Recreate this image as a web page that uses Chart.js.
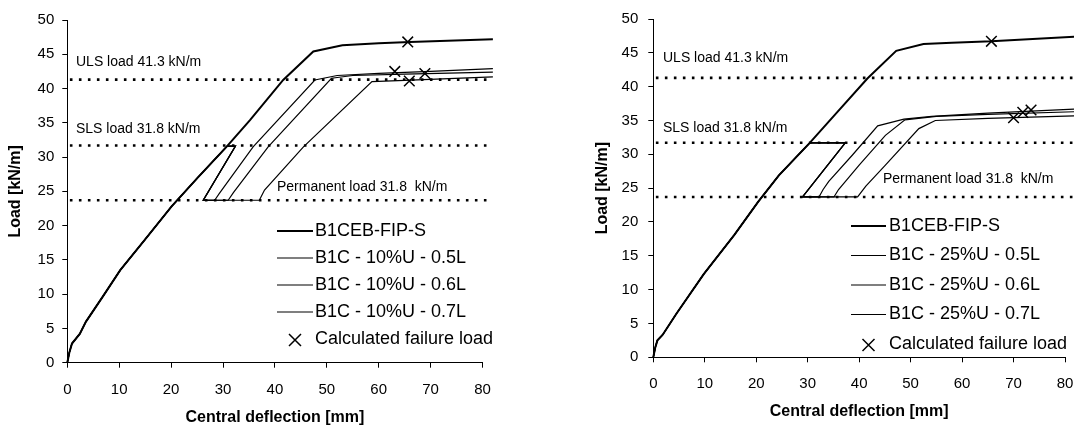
<!DOCTYPE html>
<html>
<head>
<meta charset="utf-8">
<script src="https://cdn.jsdelivr.net/npm/chart.js@4.4.0/dist/chart.umd.min.js"></script>
<style>
body { margin: 0; background: #fff; }
#left { position: absolute; left: 0; top: 0; }
#right { position: absolute; left: 540px; top: 0; }
</style>
</head>
<body>
<canvas id="left" width="540" height="429"></canvas>
<canvas id="right" width="534" height="429"></canvas>
<script>
// ---- data ----
const limitNames = ['ULS load 41.3 kN/m', 'SLS load 31.8 kN/m', 'Permanent load 31.8  kN/m'];
const limitLoads = [41.3, 31.7, 23.7];
const markerLabel = 'Calculated failure load';

const leftLabels = ['B1CEB-FIP-S', 'B1C - 10%U - 0.5L', 'B1C - 10%U - 0.6L', 'B1C - 10%U - 0.7L'];
const rightLabels = ['B1CEB-FIP-S', 'B1C - 25%U - 0.5L', 'B1C - 25%U - 0.6L', 'B1C - 25%U - 0.7L'];

// left: 10%U
const leftMainX = [0, 0.4, 0.9, 2.4, 3.6, 6.8, 10.2, 15, 20.1, 25, 30.8, 35.2, 41.6, 47.4, 53, 60, 66, 82];
const leftMainY = [0, 1.5, 2.8, 4.2, 6.0, 9.6, 13.5, 18, 22.8, 26.9, 31.6, 35.4, 41.25, 45.4, 46.3, 46.6, 46.8, 47.2];
const leftSharedX = [0, 0.4, 0.9, 2.4, 3.6, 6.8, 10.2, 15, 20.1, 25, 30.8, 32.4, 26.2];
const leftSharedY = [0, 1.5, 2.8, 4.2, 6.0, 9.6, 13.5, 18, 22.8, 26.9, 31.6, 31.6, 23.7];
const left05X = [28.4, 29.3, 35.8, 47.7, 52, 60, 70, 82];
const left05Y = [23.7, 24.7, 31.5, 41.25, 41.9, 42.2, 42.5, 42.9];
const left06X = [31.0, 32.0, 38.7, 50.9, 55, 65, 82];
const left06Y = [23.7, 24.8, 31.5, 41.5, 41.9, 42.1, 42.4];
const left07X = [37.0, 38.0, 45.5, 58.7, 65, 82];
const left07Y = [23.7, 25.2, 31.5, 41.0, 41.2, 41.7];
const leftFailX = [65.6, 63.1, 68.9, 65.9];
const leftFailY = [46.8, 42.5, 42.2, 41.1];

// right: 25%U
const rightMainX = [0, 0.4, 0.8, 1.8, 4.45, 9.8, 15.75, 20.4, 24.4, 30.4, 35.7, 41.6, 47.2, 52.5, 58, 65.7, 82];
const rightMainY = [0, 1.5, 2.5, 3.3, 6.4, 12.3, 18.1, 23.0, 26.9, 31.7, 36.2, 41.2, 45.3, 46.3, 46.5, 46.7, 47.4];
const rightSharedX = [0, 0.4, 0.8, 1.8, 4.45, 9.8, 15.75, 20.4, 24.4, 30.4, 37.3, 29.0];
const rightSharedY = [0, 1.5, 2.5, 3.3, 6.4, 12.3, 18.1, 23.0, 26.9, 31.7, 31.7, 23.7];
const right05X = [32.2, 33.0, 34.1, 38.7, 43.6, 48.7, 54.1, 65, 82];
const right05Y = [23.7, 24.8, 26.0, 29.9, 34.2, 35.2, 35.6, 36.1, 36.7];
const right06X = [35.1, 36.0, 40.0, 45.1, 48.9, 55, 65, 82];
const right06Y = [23.7, 24.8, 28.4, 32.8, 35.1, 35.6, 35.9, 36.3];
const right07X = [39.7, 41.3, 45.1, 51.6, 54.8, 65, 82];
const right07Y = [23.7, 25.3, 28.4, 33.8, 35.0, 35.3, 35.7];
const rightFailX = [65.7, 70, 71.8, 73.4];
const rightFailY = [46.7, 35.4, 36.2, 36.55];

const limitFromX = 0.5, limitToX = 82;

// ---- helpers ----
const FONT = '"Liberation Sans", Arial, Helvetica, sans-serif';

function pts(xs, ys) {
    return xs.map((x, i) => ({ x: x, y: ys[i] }));
}

function lineSet(label, data, width, color) {
    return {
        type: 'line', label: label, data: data,
        borderColor: color, borderWidth: width,
        pointRadius: 0, tension: 0, fill: false, clip: false
    };
}

function buildDatasets(labels, mainX, mainY, shX, shY, tails, failX, failY) {
    const sets = [lineSet(labels[0], pts(mainX, mainY), 2, '#000')];
    tails.forEach((t, i) => {
        sets.push(lineSet(labels[i + 1], pts(shX.concat(t[0]), shY.concat(t[1])), 1.2, '#000'));
    });
    limitLoads.forEach(v => {
        const d = lineSet('', pts([limitFromX, limitToX], [v, v]), 2.6, '#000');
        d.borderDash = [2.6, 6.4];
        sets.push(d);
    });
    sets.push({
        type: 'scatter', label: markerLabel, data: pts(failX, failY),
        pointStyle: 'crossRot', pointRadius: 7.5, borderWidth: 1.5,
        borderColor: '#000', backgroundColor: '#000', clip: false
    });
    return sets;
}

// draws the load notes and the legend inside the plot
const overlayPlugin = {
    id: 'overlay',
    afterDraw(chart, args, opts) {
        const ctx = chart.ctx;
        ctx.save();
        ctx.fillStyle = '#000';
        ctx.textBaseline = 'middle';
        ctx.textAlign = 'left';
        ctx.font = '14px ' + FONT;
        opts.notes.forEach((n, i) => ctx.fillText(limitNames[i], n[0], n[1]));

        const lg = opts.legend;
        ctx.font = '18px ' + FONT;
        lg.labels.forEach((txt, i) => {
            const y = lg.top + i * lg.step;
            ctx.strokeStyle = '#000';
            ctx.lineWidth = i === 0 ? 2 : 1.2;
            ctx.beginPath();
            ctx.moveTo(lg.x1, y);
            ctx.lineTo(lg.x2, y);
            ctx.stroke();
            ctx.fillText(txt, lg.tx, y);
        });
        const my = lg.top + lg.labels.length * lg.step + 1;
        const mx = (lg.x1 + lg.x2) / 2;
        ctx.lineWidth = 1.5;
        ctx.beginPath();
        ctx.moveTo(mx - 6, my - 6); ctx.lineTo(mx + 6, my + 6);
        ctx.moveTo(mx + 6, my - 6); ctx.lineTo(mx - 6, my + 6);
        ctx.stroke();
        ctx.fillText(markerLabel, lg.tx, my - 1);
        ctx.restore();
    }
};

function makeOptions(p) {
    return {
        responsive: false,
        animation: false,
        events: [],
        layout: { padding: { top: p.top, right: p.right, left: 0, bottom: 0 } },
        plugins: {
            legend: { display: false },
            tooltip: { enabled: false },
            overlay: p.overlay
        },
        scales: {
            x: {
                type: 'linear', min: 0, max: 80,
                ticks: { stepSize: 10, color: '#000', padding: 13, font: { family: FONT, size: 15 } },
                grid: { drawOnChartArea: false, drawTicks: true, tickLength: 5, color: '#000' },
                border: { display: true, color: '#000', width: 1 },
                title: {
                    display: true, text: 'Central deflection [mm]', color: '#000',
                    font: { family: FONT, size: 16, weight: 'bold' },
                    padding: { top: 0, bottom: p.xTitlePad }
                },
                afterFit(scale) {
                    scale.height = p.xHeight;
                    scale.paddingLeft = 0;
                    scale.paddingRight = 0;
                }
            },
            y: {
                type: 'linear', min: 0, max: 50,
                ticks: { stepSize: 5, color: '#000', padding: p.yTickPad, font: { family: FONT, size: 15 } },
                grid: { drawOnChartArea: false, drawTicks: true, tickLength: 5, color: '#000' },
                border: { display: true, color: '#000', width: 1 },
                title: {
                    display: true, text: 'Load [kN/m]', color: '#000',
                    font: { family: FONT, size: 16, weight: 'bold' },
                    padding: { top: p.yTitlePad, bottom: 0 }
                },
                afterFit(scale) {
                    scale.width = p.yWidth;
                }
            }
        }
    };
}

new Chart(document.getElementById('left'), {
    type: 'line',
    data: {
        datasets: buildDatasets(leftLabels, leftMainX, leftMainY, leftSharedX, leftSharedY,
            [[left05X, left05Y], [left06X, left06Y], [left07X, left07Y]], leftFailX, leftFailY)
    },
    options: makeOptions({
        top: 20, right: 57.5, yWidth: 67.3, xHeight: 66.3,
        xTitlePad: 1.5, yTitlePad: 6, yTickPad: 8,
        overlay: {
            notes: [[76, 62], [76, 129], [277, 187]],
            legend: { labels: leftLabels, x1: 277, x2: 313, tx: 315, top: 231, step: 27 }
        }
    }),
    plugins: [overlayPlugin]
});

new Chart(document.getElementById('right'), {
    type: 'line',
    data: {
        datasets: buildDatasets(rightLabels, rightMainX, rightMainY, rightSharedX, rightSharedY,
            [[right05X, right05Y], [right06X, right06Y], [right07X, right07Y]], rightFailX, rightFailY)
    },
    options: makeOptions({
        top: 15.7, right: 7, yWidth: 113.3, xHeight: 71.7,
        xTitlePad: 7.5, yTitlePad: 53, yTickPad: 10,
        overlay: {
            notes: [[123, 58], [123, 128], [343, 179]],
            legend: { labels: rightLabels, x1: 311, x2: 346, tx: 349, top: 226, step: 29.5 }
        }
    }),
    plugins: [overlayPlugin]
});
</script>
</body>
</html>
